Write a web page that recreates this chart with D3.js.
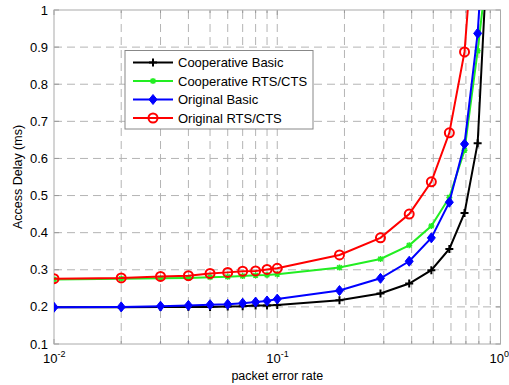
<!DOCTYPE html>
<html lang="en">
<head>
    <meta charset="UTF-8">
    <title>Access Delay vs packet error rate</title>
    <style>
        body { margin: 0; background: #fff; }
        text { font-family: "Liberation Sans", Arial, sans-serif; fill: #000; }
        .grid line { stroke: #b4b4b4; stroke-dasharray: 8 5; stroke-width: 1; }
    </style>
    <script src="https://d3js.org/d3.v7.min.js"></script>
</head>
<body>
    <svg width="509" height="385"></svg>
    <script>
        // packet error rate sample points
        const per = [0.01, 0.02, 0.03, 0.04, 0.05, 0.06, 0.07, 0.08, 0.09, 0.1,
                     0.19, 0.29, 0.39, 0.49, 0.59, 0.69, 0.79, 0.89];

        const coopBasic  = [0.199, 0.199, 0.200, 0.200, 0.200, 0.201, 0.202, 0.204, 0.204, 0.205,
                            0.218, 0.236, 0.263, 0.299, 0.356, 0.453, 0.641, 1.25];
        const coopRts    = [0.274, 0.276, 0.277, 0.278, 0.280, 0.281, 0.283, 0.285, 0.286, 0.288,
                            0.306, 0.329, 0.366, 0.418, 0.495, 0.622, 0.890, 1.16];
        const origBasic  = [0.199, 0.200, 0.202, 0.204, 0.206, 0.207, 0.210, 0.213, 0.216, 0.221,
                            0.244, 0.277, 0.323, 0.386, 0.482, 0.639, 0.937, 1.42];
        const origRts    = [0.276, 0.278, 0.282, 0.284, 0.290, 0.293, 0.296, 0.297, 0.301, 0.304,
                            0.340, 0.386, 0.450, 0.537, 0.669, 0.887, 1.35, 1.9];

        const seriesNames = ["Cooperative Basic", "Cooperative RTS/CTS", "Original Basic", "Original RTS/CTS"];
        const seriesColors = ["#000000", "#22ee22", "#0000ff", "#ff0000"];
        const seriesMarkers = ["plus", "star", "diamond", "circle"];
        const yTicks = [0.1, 0.2, 0.3, 0.4, 0.5, 0.6, 0.7, 0.8, 0.9, 1];
        const xMajor = [0.01, 0.1, 1];
        const xMajorLabels = ["-2", "-1", "0"];

        const series = [coopBasic, coopRts, origBasic, origRts];

        const margin = {left: 54, right: 8.5, top: 10, bottom: 41};
        const W = 509, H = 385;
        const svg = d3.select("svg");

        const x = d3.scaleLog().domain([0.01, 1]).range([margin.left, W - margin.right]);
        const y = d3.scaleLinear().domain([0.1, 1]).range([H - margin.bottom, margin.top]);

        const x0 = x.range()[0], x1 = x.range()[1];
        const y0 = y.range()[0], y1 = y.range()[1];

        // minor ticks 2..9 per decade
        const xMinor = [];
        [0.01, 0.1].forEach(d => { for (let k = 2; k <= 9; k++) xMinor.push(d * k); });
        const xGrid = xMinor.concat([0.1]);

        const grid = svg.append("g").attr("class", "grid");
        grid.selectAll("line.v").data(xGrid).enter().append("line")
            .attr("x1", d => x(d)).attr("x2", d => x(d))
            .attr("y1", y0).attr("y2", y1);
        grid.selectAll("line.h").data(yTicks.slice(1, -1)).enter().append("line")
            .attr("x1", x0).attr("x2", x1)
            .attr("y1", d => y(d)).attr("y2", d => y(d));

        // tick marks inside the box
        const ticks = svg.append("g").attr("stroke", "#999").attr("stroke-width", 1);
        xMinor.forEach(d => {
            ticks.append("line").attr("x1", x(d)).attr("x2", x(d)).attr("y1", y0).attr("y2", y0 - 3);
            ticks.append("line").attr("x1", x(d)).attr("x2", x(d)).attr("y1", y1).attr("y2", y1 + 3);
        });
        xMajor.forEach(d => {
            ticks.append("line").attr("x1", x(d)).attr("x2", x(d)).attr("y1", y0).attr("y2", y0 - 5);
            ticks.append("line").attr("x1", x(d)).attr("x2", x(d)).attr("y1", y1).attr("y2", y1 + 5);
        });
        yTicks.forEach(d => {
            ticks.append("line").attr("x1", x0).attr("x2", x0 + 5).attr("y1", y(d)).attr("y2", y(d));
            ticks.append("line").attr("x1", x1).attr("x2", x1 - 5).attr("y1", y(d)).attr("y2", y(d));
        });

        // box
        svg.append("rect").attr("x", x0).attr("y", y1)
            .attr("width", x1 - x0).attr("height", y0 - y1)
            .attr("fill", "none").attr("stroke", "#aaa").attr("stroke-width", 1);

        // y tick labels
        svg.append("g").selectAll("text").data(yTicks).enter().append("text")
            .attr("x", x0 - 6).attr("y", d => y(d) + 4.5)
            .attr("text-anchor", "end").attr("font-size", 13)
            .text(d => d === 1 ? "1" : d3.format(".1f")(d));

        // x tick labels 10^k
        xMajor.forEach((d, i) => {
            const t = svg.append("text").attr("x", x(d) - 11).attr("y", y0 + 19).attr("font-size", 13);
            t.append("tspan").text("10");
            t.append("tspan").attr("dy", -6).attr("font-size", 9).text(xMajorLabels[i]);
        });

        svg.append("text").attr("x", (x0 + x1) / 2).attr("y", H - 5)
            .attr("text-anchor", "middle").attr("font-size", 12.5).text("packet error rate");
        svg.append("text").attr("transform", `translate(22,${(y0 + y1) / 2}) rotate(-90)`)
            .attr("text-anchor", "middle").attr("font-size", 12.5).text("Access Delay (ms)");

        // clip
        svg.append("clipPath").attr("id", "clip").append("rect")
            .attr("x", x0).attr("y", y1).attr("width", x1 - x0).attr("height", y0 - y1);

        const line = d3.line().x(d => x(d[0])).y(d => y(d[1]));
        const plot = svg.append("g").attr("clip-path", "url(#clip)");

        function marker(g, type, color, cx, cy) {
            if (type === "plus") {
                g.append("path").attr("d", `M${cx - 4},${cy}H${cx + 4}M${cx},${cy - 4}V${cy + 4}`)
                    .attr("stroke", color).attr("stroke-width", 2);
            } else if (type === "star") {
                g.append("path").attr("d", `M${cx - 3},${cy}H${cx + 3}M${cx},${cy - 3}V${cy + 3}M${cx - 2.3},${cy - 2.3}L${cx + 2.3},${cy + 2.3}M${cx - 2.3},${cy + 2.3}L${cx + 2.3},${cy - 2.3}`)
                    .attr("stroke", color).attr("stroke-width", 1.5);
            } else if (type === "diamond") {
                g.append("path").attr("d", `M${cx},${cy - 5}L${cx + 4},${cy}L${cx},${cy + 5}L${cx - 4},${cy}Z`)
                    .attr("fill", color).attr("stroke", color).attr("stroke-width", 1);
            } else {
                g.append("circle").attr("cx", cx).attr("cy", cy).attr("r", 4.5)
                    .attr("fill", "none").attr("stroke", color).attr("stroke-width", 2);
            }
        }

        series.forEach((vals, i) => {
            const pts = per.map((p, j) => [p, vals[j]]);
            plot.append("path").datum(pts).attr("d", line)
                .attr("fill", "none").attr("stroke", seriesColors[i]).attr("stroke-width", 2);
            const g = plot.append("g");
            pts.forEach(p => marker(g, seriesMarkers[i], seriesColors[i], x(p[0]), y(p[1])));
        });

        // legend
        const lg = svg.append("g").attr("transform", "translate(125,50.5)");
        lg.append("rect").attr("width", 188).attr("height", 78.5)
            .attr("fill", "#fff").attr("stroke", "#888").attr("stroke-width", 1);
        seriesNames.forEach((name, i) => {
            const ly = 12 + i * 18.5;
            lg.append("line").attr("x1", 8).attr("x2", 48).attr("y1", ly).attr("y2", ly)
                .attr("stroke", seriesColors[i]).attr("stroke-width", 2);
            marker(lg, seriesMarkers[i], seriesColors[i], 28, ly);
            lg.append("text").attr("x", 53).attr("y", ly + 4.5).attr("font-size", 13).text(name);
        });
    </script>
</body>
</html>
